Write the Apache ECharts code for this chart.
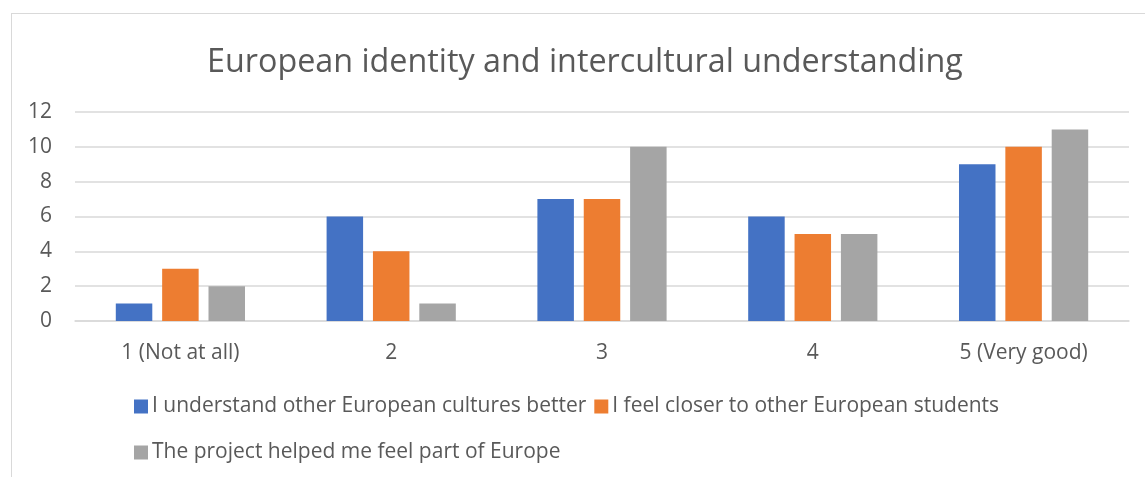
<!DOCTYPE html>
<html>
<head>
<meta charset="utf-8">
<script src="https://cdn.jsdelivr.net/npm/echarts@6/dist/echarts.min.js"></script>
<style>
html,body{margin:0;padding:0;background:#fff;overflow:hidden;}
#frame{position:absolute;left:11px;top:13px;width:1134px;height:500px;border-left:1.5px solid #D9D9D9;border-top:1.5px solid #D9D9D9;box-sizing:border-box;}
#chart{position:absolute;left:0;top:0;width:1145px;height:477px;}
</style>
</head>
<body>
<div id="frame"></div>
<div id="chart"></div>
<script>
const titleText = "European identity and intercultural understanding";
const categories = ["1 (Not at all)", "2", "3", "4", "5 (Very good)"];
const seriesNames = [
  "I understand other European cultures better",
  "I feel closer to other European students",
  "The project helped me feel part of Europe"
];
const understandBetter = [1, 6, 7, 6, 9];
const feelCloser = [3, 4, 7, 5, 10];
const partOfEurope = [2, 1, 10, 5, 11];
const colors = ["#4472C4", "#ED7D31", "#A5A5A5"];

const font = "Open Sans";
const textColor = "#595959";
const chart = echarts.init(document.getElementById('chart'), null, {renderer: 'canvas'});
const values = [understandBetter, feelCloser, partOfEurope];
chart.setOption({
  animation: false,
  title: {
    text: titleText, left: 202, top: 42,
    textStyle: {fontFamily: font, fontSize: 32.3, fontWeight: 'normal', color: textColor}
  },
  legend: [
    {data: [seriesNames[0], seriesNames[1]], left: 129, top: 391, itemWidth: 14, itemHeight: 14, itemGap: 8,
     icon: 'rect', textStyle: {fontFamily: font, fontSize: 21, color: textColor, padding: [0,0,0,-1]}},
    {data: [seriesNames[2]], left: 129, top: 437, itemWidth: 14, itemHeight: 14, itemGap: 8,
     icon: 'rect', textStyle: {fontFamily: font, fontSize: 21, color: textColor, padding: [0,0,0,-1]}}
  ],
  grid: {left: 75, right: 16, top: 112, bottom: 156, containLabel: false},
  xAxis: {
    type: 'category', data: categories,
    axisLine: {lineStyle: {color: '#D9D9D9', width: 1.5}},
    axisTick: {show: false},
    axisLabel: {fontFamily: font, fontSize: 21, color: textColor, margin: 22}
  },
  yAxis: {
    type: 'value', min: 0, max: 12, interval: 2,
    axisLine: {show: false}, axisTick: {show: false},
    splitLine: {lineStyle: {color: '#D9D9D9', width: 1.5}},
    axisLabel: {fontFamily: font, fontSize: 21, color: textColor, margin: 23}
  },
  series: seriesNames.map((n, i) => ({
    name: n, type: 'bar', data: values[i], barWidth: 36.5, barGap: '27%',
    itemStyle: {color: colors[i]}
  }))
});
</script>
</body>
</html>
